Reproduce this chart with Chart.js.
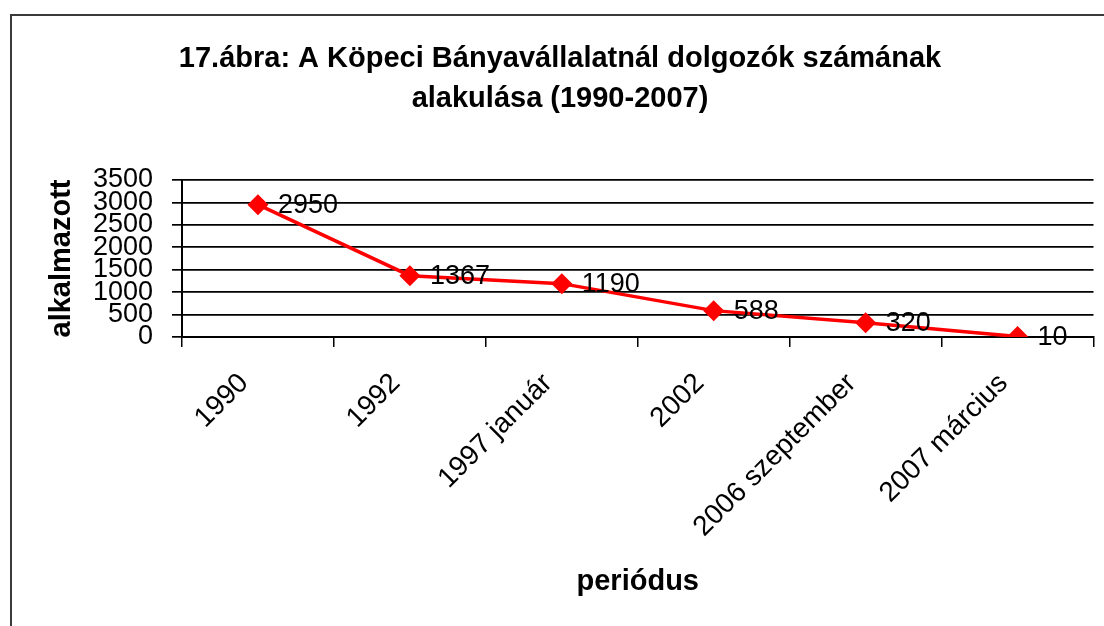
<!DOCTYPE html>
<html>
<head>
<meta charset="utf-8">
<script src="https://cdn.jsdelivr.net/npm/chart.js@4/dist/chart.umd.min.js"></script>
<style>
  html, body { margin: 0; padding: 0; background: #fff; }
  #wrap { width: 1104px; height: 626px; }
</style>
</head>
<body>
<div id="wrap"><canvas id="chart" width="1104" height="626"></canvas></div>
<script>
const periods = ['1990', '1992', '1997 január', '2002', '2006 szeptember', '2007 március'];
const workers = [2950, 1367, 1190, 588, 320, 10];
const yTicks = [0, 500, 1000, 1500, 2000, 2500, 3000, 3500];

const FONT = '"Liberation Sans", Arial, sans-serif';

// outer frame of the original figure
const framePlugin = {
    id: 'frame',
    beforeDraw(chart) {
        const c = chart.ctx;
        c.save();
        c.fillStyle = '#fff';
        c.fillRect(0, 0, chart.width, chart.height);
        c.strokeStyle = '#3a3a3a';
        c.lineWidth = 2;
        c.strokeRect(11, 15, 1200, 700);
        c.restore();
    }
};

// value labels to the right of each marker
const valueLabels = {
    id: 'valueLabels',
    afterDatasetsDraw(chart) {
        const c = chart.ctx;
        const meta = chart.getDatasetMeta(0);
        c.save();
        c.font = '27px ' + FONT;
        c.fillStyle = '#000';
        c.textBaseline = 'middle';
        c.textAlign = 'left';
        meta.data.forEach((pt, i) => {
            c.fillText(String(workers[i]), pt.x + 20, pt.y + 1);
        });
        c.restore();
    }
};

new Chart(document.getElementById('chart').getContext('2d'), {
    type: 'line',
    data: {
        labels: periods,
        datasets: [{
            data: workers,
            borderColor: '#ff0000',
            backgroundColor: '#ff0000',
            borderWidth: 3.5,
            pointStyle: 'rectRot',
            pointRadius: 10.5,
            pointHoverRadius: 10.5,
            pointBorderWidth: 0,
            tension: 0
        }]
    },
    options: {
        responsive: false,
        animation: false,
        layout: { padding: { left: 20, right: 4, top: 0, bottom: 0 } },
        plugins: {
            legend: { display: false },
            tooltip: { enabled: false },
            title: {
                display: true,
                text: ['17.ábra: A Köpeci Bányavállalatnál dolgozók számának', 'alakulása (1990-2007)'],
                color: '#000',
                font: { family: FONT, size: 29, weight: 'bold', lineHeight: 1.38 },
                padding: { top: 39, bottom: 61 }
            }
        },
        scales: {
            x: {
                offset: true,
                afterFit(scale) { scale.height = 289; },
                grid: {
                    offset: true,
                    drawOnChartArea: false,
                    drawTicks: true,
                    tickLength: 10,
                    color: '#000',
                    lineWidth: 1.5
                },
                border: { color: '#000', width: 2 },
                ticks: {
                    autoSkip: false,
                    minRotation: 45,
                    maxRotation: 45,
                    padding: 20,
                    labelOffset: -14,
                    color: '#000',
                    font: { family: FONT, size: 28 }
                },
                title: {
                    display: true,
                    text: 'periódus',
                    color: '#000',
                    font: { family: FONT, size: 29, weight: 'bold' },
                    padding: { top: 0, bottom: 27 }
                }
            },
            y: {
                min: 0,
                max: 3500,
                afterFit(scale) { scale.width = 162; },
                afterBuildTicks(scale) { scale.ticks = yTicks.map(v => ({ value: v })); },
                grid: {
                    drawTicks: true,
                    tickLength: 10,
                    color: '#000',
                    lineWidth: 1.7
                },
                border: { color: '#000', width: 2 },
                ticks: {
                    autoSkip: false,
                    stepSize: 500,
                    padding: 19,
                    color: '#000',
                    font: { family: FONT, size: 27 },
                    callback: v => String(v)
                },
                title: {
                    display: true,
                    text: 'alkalmazott',
                    color: '#000',
                    font: { family: FONT, size: 29, weight: 'bold' },
                    padding: { top: 25, bottom: 0 }
                }
            }
        }
    },
    plugins: [framePlugin, valueLabels]
});
</script>
</body>
</html>
